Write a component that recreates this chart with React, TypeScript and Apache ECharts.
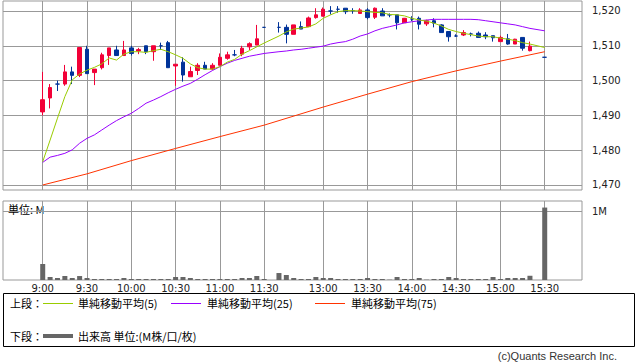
import React, { useEffect, useRef } from "react";
import * as echarts from "echarts";

// 5-minute bars (morning 9:00-11:30, afternoon 12:30-15:20, close 15:30)
const times = [
  "9:00", "9:05", "9:10", "9:15", "9:20", "9:25", "9:30", "9:35", "9:40", "9:45", "9:50", "9:55",
  "10:00", "10:05", "10:10", "10:15", "10:20", "10:25", "10:30", "10:35", "10:40", "10:45", "10:50", "10:55",
  "11:00", "11:05", "11:10", "11:15", "11:20", "11:25", "11:30",
  "12:30", "12:35", "12:40", "12:45", "12:50", "12:55",
  "13:00", "13:05", "13:10", "13:15", "13:20", "13:25", "13:30", "13:35", "13:40", "13:45", "13:50", "13:55",
  "14:00", "14:05", "14:10", "14:15", "14:20", "14:25", "14:30", "14:35", "14:40", "14:45", "14:50", "14:55",
  "15:00", "15:05", "15:10", "15:15", "15:20",
  "15:30",
];

const open = [
  1491, 1495, 1499, 1499, 1502.5, 1501.5, 1509, 1502.3, 1503.7, 1507.2, 1508.8, 1507.2,
  1509.4, 1508.5, 1510, 1508.3, 1510, 1510.9, 1504.2, 1505.3, 1501.1, 1502.9, 1504.4, 1503.3,
  1504.4, 1506.4, 1507.4, 1507.6, 1509.7, 1510.2, 1515.3,
  1515.3, 1515.3, 1513.3, 1515.5, 1515.5, 1518.1,
  1518.5, 1520, 1520.5, 1520.8, 1520.1, 1519.3, 1520.3, 1518.2, 1520, 1518.9, 1518.9, 1516.6,
  1517.7, 1517.9, 1516.3, 1517.2, 1516, 1514.1, 1512.8, 1513.1, 1513.4, 1513.6, 1513.1, 1512.9,
  1511.2, 1512, 1510.5, 1512.4, 1508.6,
  1506.7,
];
const close = [
  1494.5, 1498, 1499, 1502.5, 1501.5, 1509.5, 1502, 1503.3, 1507.4, 1509.4, 1507.2, 1508.8,
  1507.8, 1508.9, 1508.3, 1510, 1510, 1503.7, 1504.7, 1501.6, 1502.6, 1504.4, 1503.3, 1504.4,
  1506.7, 1507.4, 1507.4, 1509.3, 1510.6, 1512, 1515.3,
  1515.3, 1513.3, 1516, 1514.8, 1518, 1518.9,
  1520.5, 1520, 1520.5, 1519.8, 1520.1, 1520.3, 1518.1, 1520.8, 1518.6, 1518.9, 1516.6, 1517.9,
  1517.7, 1516.2, 1517.2, 1516.5, 1513.8, 1512.6, 1512.8, 1513.8, 1513.4, 1512.4, 1512.6, 1512.3,
  1512.4, 1510.5, 1511.9, 1509.3, 1509.9,
  1506.7,
];
const low = [
  1490, 1492, 1497, 1498.5, 1499, 1501, 1502, 1498.7, 1503.2, 1504.5, 1507.2, 1507.2,
  1507.2, 1507.6, 1507.6, 1505.7, 1508.8, 1503.7, 1498.5, 1499.7, 1501.1, 1501.6, 1503.3, 1503,
  1504.4, 1506, 1507, 1507, 1508.8, 1510.2, 1515.3,
  1513.8, 1510.7, 1513.3, 1514.8, 1515.5, 1517.8,
  1518.5, 1519, 1519.5, 1519.1, 1519.2, 1519.3, 1517.6, 1517.7, 1518.6, 1518.2, 1514.7, 1516.6,
  1517.1, 1514.7, 1515.7, 1515.3, 1513.8, 1511.2, 1512.6, 1512.8, 1512.7, 1512.3, 1511.9, 1511.2,
  1511.2, 1510.3, 1510.5, 1508.6, 1508.4,
  1506.7,
];
const high = [
  1502.5, 1499, 1500, 1504.5, 1504, 1509.5, 1510, 1503.3, 1508, 1509.4, 1510, 1511.4,
  1510, 1509.4, 1510, 1510, 1510.9, 1511.4, 1504.7, 1506.7, 1504, 1505, 1505.4, 1505,
  1507.8, 1508.3, 1508.8, 1510, 1511, 1516, 1515.3,
  1516.8, 1516.1, 1516, 1517, 1518.4, 1520.8,
  1521, 1521.4, 1521.4, 1520.8, 1520.8, 1520.8, 1520.8, 1521, 1520.8, 1519.3, 1518.9, 1518,
  1518.5, 1518.4, 1517.5, 1517.9, 1516.2, 1514.1, 1513.3, 1514.5, 1513.8, 1514.1, 1513.9, 1512.9,
  1512.9, 1513.4, 1512, 1512.4, 1511.2,
  1506.7,
];
// volume in millions
const volume = [
  0.234, 0.044, 0.029, 0.058, 0.029, 0.058, 0.029, 0.015, 0.015, 0.015, 0.015, 0.029,
  0.015, 0.015, 0.015, 0.015, 0.015, 0.015, 0.044, 0.044, 0.029, 0.015, 0.015, 0.015,
  0.015, 0.015, 0.015, 0.029, 0.029, 0.058, 0.015,
  0.102, 0.073, 0.029, 0.015, 0.015, 0.044,
  0.029, 0.029, 0.015, 0.015, 0.015, 0.015, 0.029, 0.015, 0.015, 0.005, 0.044, 0.015,
  0.015, 0.029, 0.005, 0.015, 0.015, 0.044, 0.029, 0.015, 0.015, 0.015, 0.015, 0.044,
  0.015, 0.029, 0.029, 0.029, 0.062,
  1.06,
];
const ma5 = [
  1476.7, 1482.9, 1489.2, 1495.4, 1500.2, 1501.9, 1503, 1503.8, 1504.8, 1506.5, 1505.9, 1507.6,
  1508.3, 1508.3, 1508.1, 1508.6, 1509, 1508.3, 1507.4, 1506.4, 1504.8, 1503.7, 1503.3, 1503.3,
  1504, 1505.3, 1506.1, 1507.6, 1508.6, 1509.7, 1510.8,
  1512.8, 1514, 1514.8, 1515.1, 1515.4, 1516.3,
  1517.9, 1518.9, 1519.8, 1520.1, 1520.1, 1520, 1519.8, 1519.6, 1519.5, 1519, 1518.9, 1518.6,
  1517.9, 1517.4, 1517.1, 1516.5, 1515.7, 1514.7, 1514.1, 1513.6, 1513.2, 1512.8, 1512.6, 1512.6,
  1512.2, 1511.9, 1511.5, 1510.9, 1510.5,
  1509.5,
];
const ma25 = [
  1476.5, 1478, 1478.5, 1479.1, 1480.1, 1482, 1483.4, 1484.4, 1485.8, 1487.2, 1488.5, 1489.6,
  1490.6, 1492, 1493.5, 1494.4, 1495.4, 1496.5, 1497.5, 1498.4, 1499.2, 1500.4, 1501.7, 1502.9,
  1504, 1505, 1505.8, 1506.4, 1507, 1507.4, 1507.8,
  1508.3, 1508.5, 1508.8, 1509, 1509.3, 1509.6,
  1509.9, 1510.5, 1510.9, 1511.2, 1511.9, 1512.8, 1513.4, 1514.3, 1515, 1515.5, 1516, 1516.6,
  1516.9, 1517.2, 1517.4, 1517.6, 1517.6, 1517.6, 1517.6, 1517.6, 1517.6, 1517.5, 1517.2, 1516.9,
  1516.6, 1516.3, 1516, 1515.5, 1515,
  1514.3,
];
// 75-period average read at the half-hour marks
const ma75Times = ["9:00", "9:30", "10:00", "10:30", "11:00", "11:30", "13:00", "13:30", "14:00", "14:30", "15:00", "15:30"];
const ma75 = [1470.0, 1473.2, 1477.0, 1480.5, 1483.9, 1487.2, 1492.4, 1496.1, 1499.7, 1502.8, 1505.6, 1508.3];

const tickLabels = ["9:00", "9:30", "10:00", "10:30", "11:00", "11:30", "13:00", "13:30", "14:00", "14:30", "15:00", "15:30"];
const priceTicks = [1470, 1480, 1490, 1500, 1510, 1520];
const volumeTicks = [1];

const RED = "#f20037";
const BLUE = "#003399";
const C_MA5 = "#99cc00";
const C_MA25 = "#9900ff";
const C_MA75 = "#ff3300";
const GRID_C = "#999999";

// slot position on the compressed intraday axis (lunch break collapsed to one slot)
const toSlot = (t: string) => {
  const [h, m] = t.split(":").map(Number);
  const mins = h * 60 + m;
  return mins <= 690 ? (mins - 540) / 5 : (mins - 750) / 5 + 32;
};

const tickSlots = tickLabels.map(toSlot);

const X_MIN = -5.38;
const X_MAX = 73.05;
const Y_MIN = 1468.56;
const Y_MAX = 1522.87;
const V_MAX = 1.156;

const fmtComma = (v: number) => {
  const s = String(Math.round(v));
  return s.replace(/\B(?=(\d{3})+(?!\d))/g, ",");
};

export default function App() {
  const ref = useRef<HTMLDivElement>(null);

  useEffect(() => {
    if (!ref.current) return;
    const chart = echarts.init(ref.current, undefined, { renderer: "svg" });
    const jp = "'Noto Sans CJK JP', sans-serif";
    const lat = "'DejaVu Sans', sans-serif";

    const xBase = {
      type: "value" as const,
      min: X_MIN,
      max: X_MAX,
      axisLine: { show: false },
      axisTick: { show: false, customValues: tickSlots },
      splitLine: { show: true, lineStyle: { color: GRID_C, width: 1 } },
    };

    const option: any = {
      animation: false,
      textStyle: { fontFamily: lat },
      grid: [
        { left: 3, top: 1, width: 579, height: 189, show: true, borderColor: GRID_C, borderWidth: 1 },
        { left: 3, top: 201, width: 579, height: 79, show: true, borderColor: GRID_C, borderWidth: 1 },
      ],
      xAxis: [
        { ...xBase, gridIndex: 0, axisLabel: { show: false, customValues: tickSlots } },
        {
          ...xBase,
          gridIndex: 1,
          axisLabel: {
            show: true,
            customValues: tickSlots,
            margin: 3,
            fontSize: 10,
            color: "#222",
            fontFamily: lat,
            formatter: (v: number) => {
              const i = tickSlots.indexOf(Math.round(v));
              return i >= 0 ? tickLabels[i] : "";
            },
          },
        },
      ],
      yAxis: [
        {
          type: "value",
          gridIndex: 0,
          position: "right",
          min: Y_MIN,
          max: Y_MAX,
          axisLine: { show: false },
          axisTick: { show: true, length: 4, customValues: priceTicks, lineStyle: { color: GRID_C } },
          axisLabel: { customValues: priceTicks, margin: 10, fontSize: 10, color: "#222", fontFamily: lat, formatter: fmtComma },
          splitLine: { show: true, lineStyle: { color: GRID_C, width: 1 } },
        },
        {
          type: "value",
          gridIndex: 1,
          position: "right",
          min: 0,
          max: V_MAX,
          axisLine: { show: false },
          axisTick: { show: true, length: 4, customValues: volumeTicks, lineStyle: { color: GRID_C } },
          axisLabel: { customValues: volumeTicks, margin: 10, fontSize: 10, color: "#222", fontFamily: lat, formatter: (v: number) => `${v}M` },
          splitLine: { show: true, lineStyle: { color: GRID_C, width: 1 } },
        },
      ],
      series: [
        {
          type: "candlestick",
          xAxisIndex: 0,
          yAxisIndex: 0,
          barWidth: 4,
          encode: { x: 0, y: [1, 2, 3, 4] },
          data: times.map((t, i) => [toSlot(t), open[i], close[i], low[i], high[i]]),
          itemStyle: {
            color: RED,
            color0: BLUE,
            borderColor: RED,
            borderColor0: BLUE,
            borderColorDoji: BLUE,
            borderWidth: 1,
          },
        },
        {
          type: "line",
          xAxisIndex: 0,
          yAxisIndex: 0,
          symbol: "none",
          data: ma75Times.map((t, i) => [toSlot(t), ma75[i]]),
          lineStyle: { color: C_MA75, width: 1 },
        },
        {
          type: "line",
          xAxisIndex: 0,
          yAxisIndex: 0,
          symbol: "none",
          data: times.map((t, i) => [toSlot(t), ma25[i]]),
          lineStyle: { color: C_MA25, width: 1 },
        },
        {
          type: "line",
          xAxisIndex: 0,
          yAxisIndex: 0,
          symbol: "none",
          data: times.map((t, i) => [toSlot(t), ma5[i]]),
          lineStyle: { color: C_MA5, width: 1 },
        },
        {
          type: "bar",
          xAxisIndex: 1,
          yAxisIndex: 1,
          barWidth: 5,
          data: times.map((t, i) => [toSlot(t), volume[i]]),
          itemStyle: { color: "#666666" },
        },
      ],
      graphic: [
        { type: "text", x: 8, y: 209, style: { text: "単位: M", fontSize: 11, fontFamily: jp, fill: "#000", verticalAlign: "middle" } },
        { type: "rect", shape: { x: 3.5, y: 293.5, width: 631, height: 53 }, style: { fill: "none", stroke: "#000", lineWidth: 1 } },
        { type: "text", x: 10, y: 303, style: { text: "上段：", fontSize: 11, fontFamily: jp, fill: "#000", verticalAlign: "middle" } },
        { type: "line", shape: { x1: 43, y1: 303.5, x2: 73, y2: 303.5 }, style: { stroke: C_MA5, lineWidth: 1 } },
        { type: "text", x: 78, y: 303, style: { text: "単純移動平均(5)", fontSize: 11, fontFamily: jp, fill: "#000", verticalAlign: "middle" } },
        { type: "line", shape: { x1: 171, y1: 303.5, x2: 201, y2: 303.5 }, style: { stroke: C_MA25, lineWidth: 1 } },
        { type: "text", x: 207, y: 303, style: { text: "単純移動平均(25)", fontSize: 11, fontFamily: jp, fill: "#000", verticalAlign: "middle" } },
        { type: "line", shape: { x1: 315, y1: 303.5, x2: 345, y2: 303.5 }, style: { stroke: C_MA75, lineWidth: 1 } },
        { type: "text", x: 351, y: 303, style: { text: "単純移動平均(75)", fontSize: 11, fontFamily: jp, fill: "#000", verticalAlign: "middle" } },
        { type: "text", x: 10, y: 336, style: { text: "下段：", fontSize: 11, fontFamily: jp, fill: "#000", verticalAlign: "middle" } },
        { type: "line", shape: { x1: 43, y1: 336, x2: 73, y2: 336 }, style: { stroke: "#666666", lineWidth: 4 } },
        { type: "text", x: 78, y: 336, style: { text: "出来高 単位:(M株/口/枚)", fontSize: 11, fontFamily: jp, fill: "#000", verticalAlign: "middle" } },
        { type: "text", x: 617, y: 356, style: { text: "(c)Quants Research Inc.", fontSize: 11, fontFamily: "'Liberation Sans', sans-serif", fill: "#333", align: "right", verticalAlign: "middle" } },
      ],
    };

    chart.setOption(option);
    return () => chart.dispose();
  }, []);

  return (
    <div
      ref={ref}
      style={{ position: "fixed", left: 0, top: 0, width: 638, height: 362, background: "#fff" }}
    />
  );
}
